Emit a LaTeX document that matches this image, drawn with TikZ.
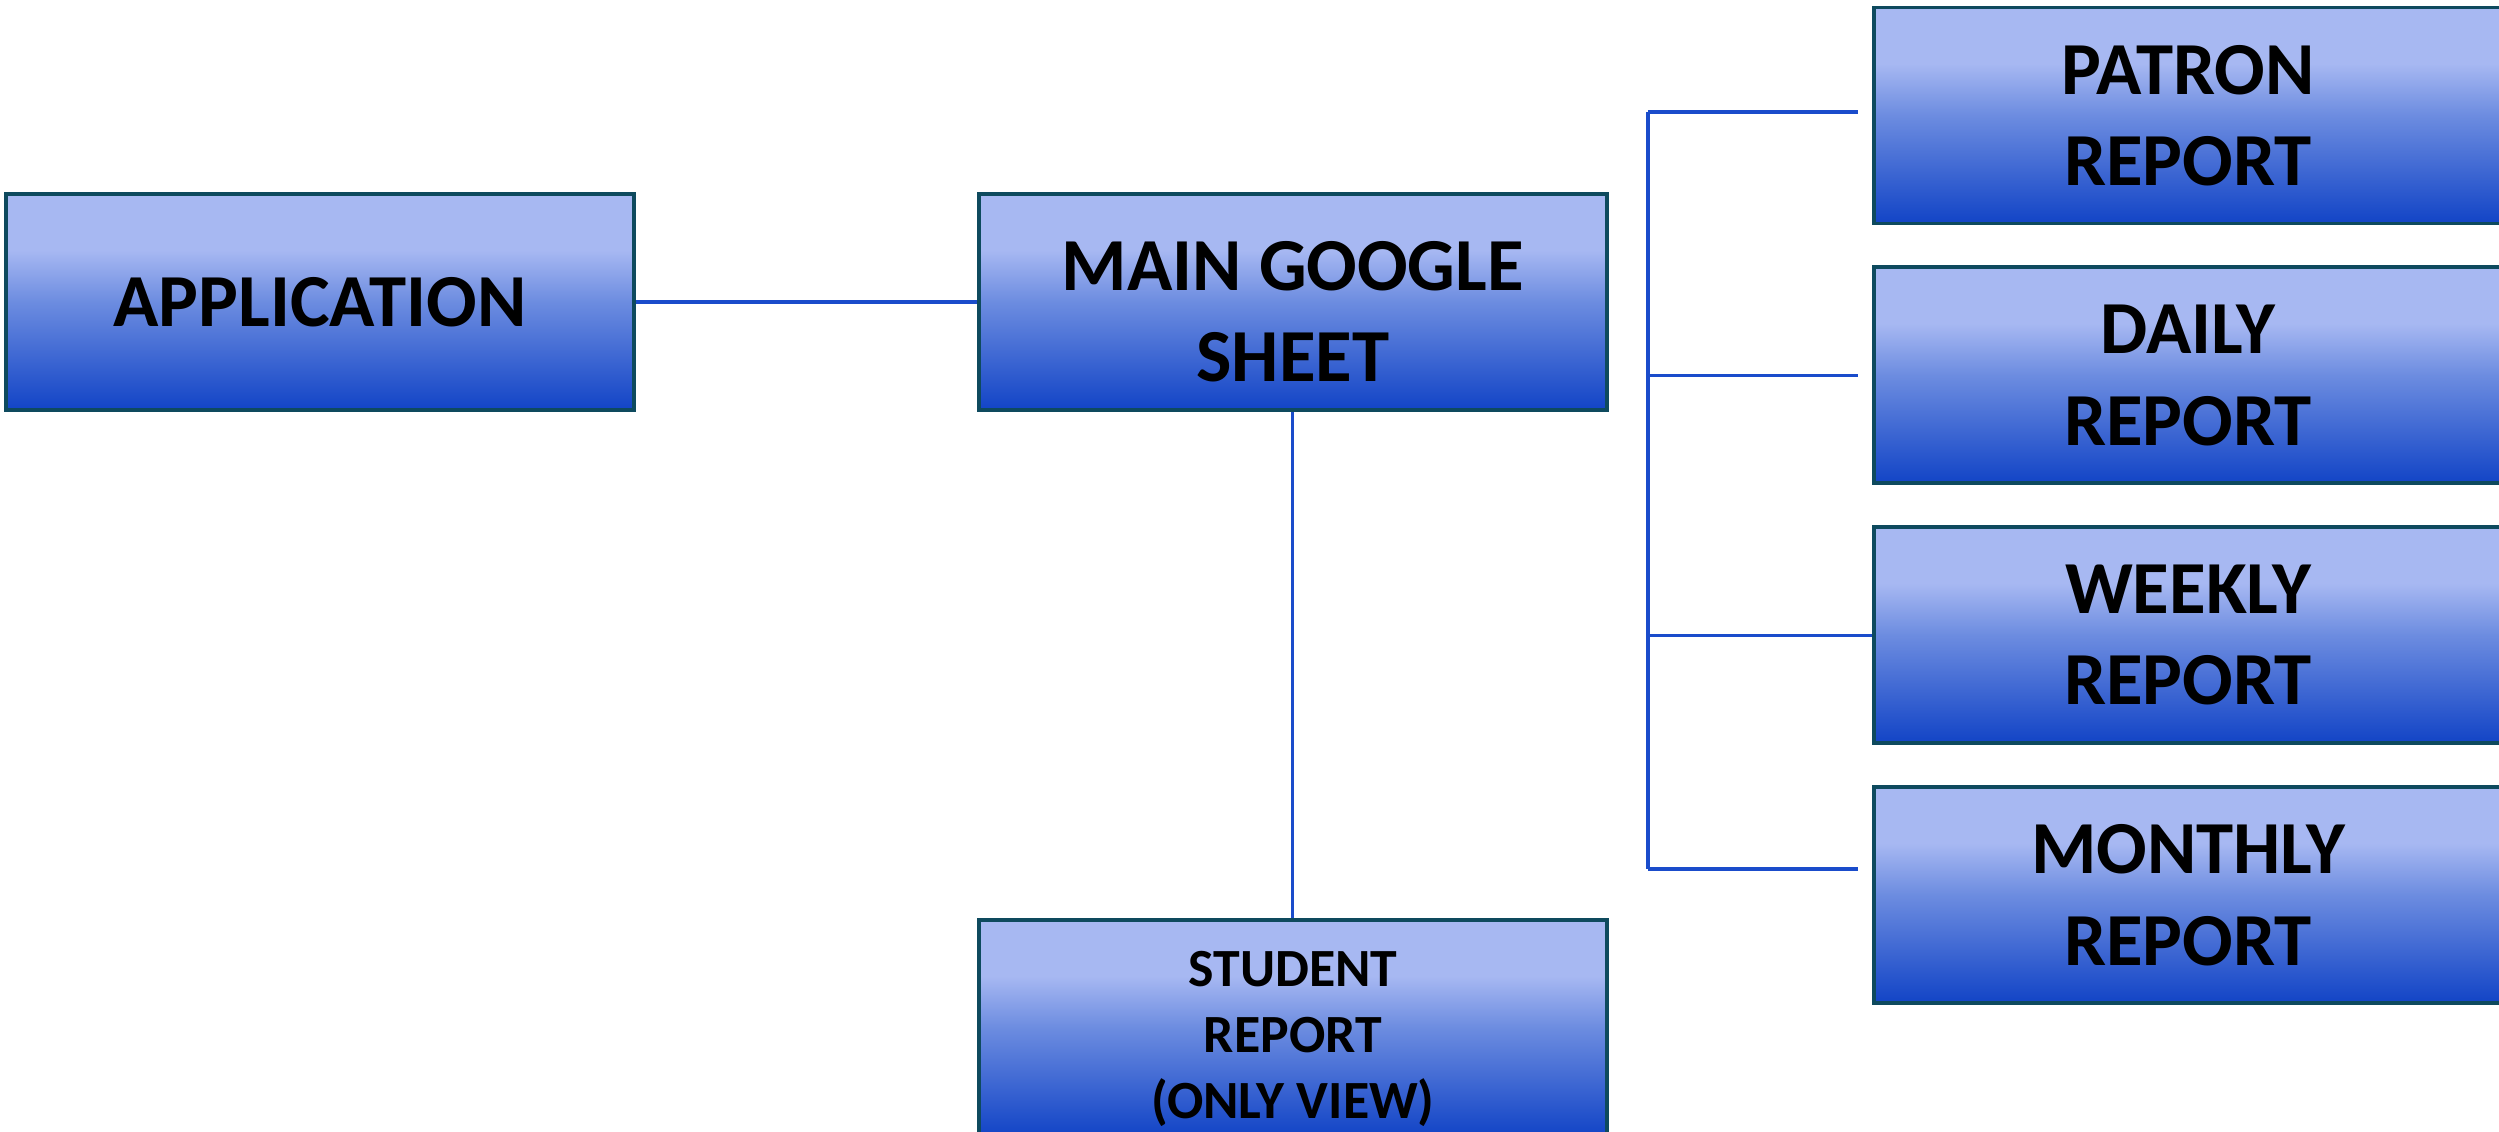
\documentclass[tikz,border=0pt]{standalone}
\usepackage{fontspec}
\setmainfont{Carlito}
\usepackage{xcolor}
\definecolor{box-light}{HTML}{A7B8F2}
\definecolor{box-mid}{HTML}{6C8CE0}
\definecolor{box-dark}{HTML}{1244C6}
\definecolor{box-edge}{HTML}{0E4A5E}
\definecolor{link-blue}{HTML}{1A4CCB}
\usepackage{tikz}
\usetikzlibrary{positioning}
\pgfdeclareverticalshading{boxshade}{100bp}{color(0bp)=(box-dark); color(25bp)=(box-dark); color(50bp)=(box-mid); color(62bp)=(box-light); color(100bp)=(box-light)}
\tikzset{box/.style = {draw=box-edge, line width=1.1pt, shading=boxshade, minimum width=6.28cm, minimum height=2.16cm, inner sep=0pt, align=center, text centered, font=\bfseries\fontsize{21.3}{26}\selectfont}}
\tikzset{small/.style = {font=\bfseries\fontsize{15.3}{18.7}\selectfont}}
\tikzset{link/.style = {draw=link-blue, line width=0.9pt}}
% pushes the first text line down a little
\newcommand{\lowtext}[1]{\rule{0pt}{#1}}

\begin{document}
\begin{tikzpicture}[node distance = 4.0mm]
\useasboundingbox (0,0) rectangle (24.99,11.32);

\node[box] (app) at (3.20,8.30) {APPLICATION};
\node[box, right=3.41cm of app] (main) {\lowtext{0.69cm}MAIN GOOGLE\\SHEET};
\node[box, small, below=5.06cm of main] (student) {\lowtext{0.57cm}STUDENT\\REPORT\\(ONLY VIEW)};
\node[box] (patron) at (21.88,10.165) {PATRON\\REPORT};
\node[box, below=of patron] (daily) {DAILY\\REPORT};
\node[box, below=of daily] (weekly) {WEEKLY\\REPORT};
\node[box, below=of weekly] (monthly) {MONTHLY\\REPORT};

% the bar on the left of the report boxes
\coordinate (bartop) at (16.48,10.20);
\coordinate (barbot) at (16.48,2.63);

\draw[link]  (app) -- (main);
\draw[link]  (main) -- (student);
\draw[link]  (bartop) -- (barbot);
\draw[link, shorten >=1.4mm]  (bartop) -- (bartop -| patron.west);
\draw[link, shorten >=1.4mm]  (bartop |- daily.west) -- (daily.west);
\draw[link]  (bartop |- weekly.west) -- (weekly.west);
\draw[link, shorten >=1.4mm]  (barbot) -- (barbot -| monthly.west);

\end{tikzpicture}
\end{document}
